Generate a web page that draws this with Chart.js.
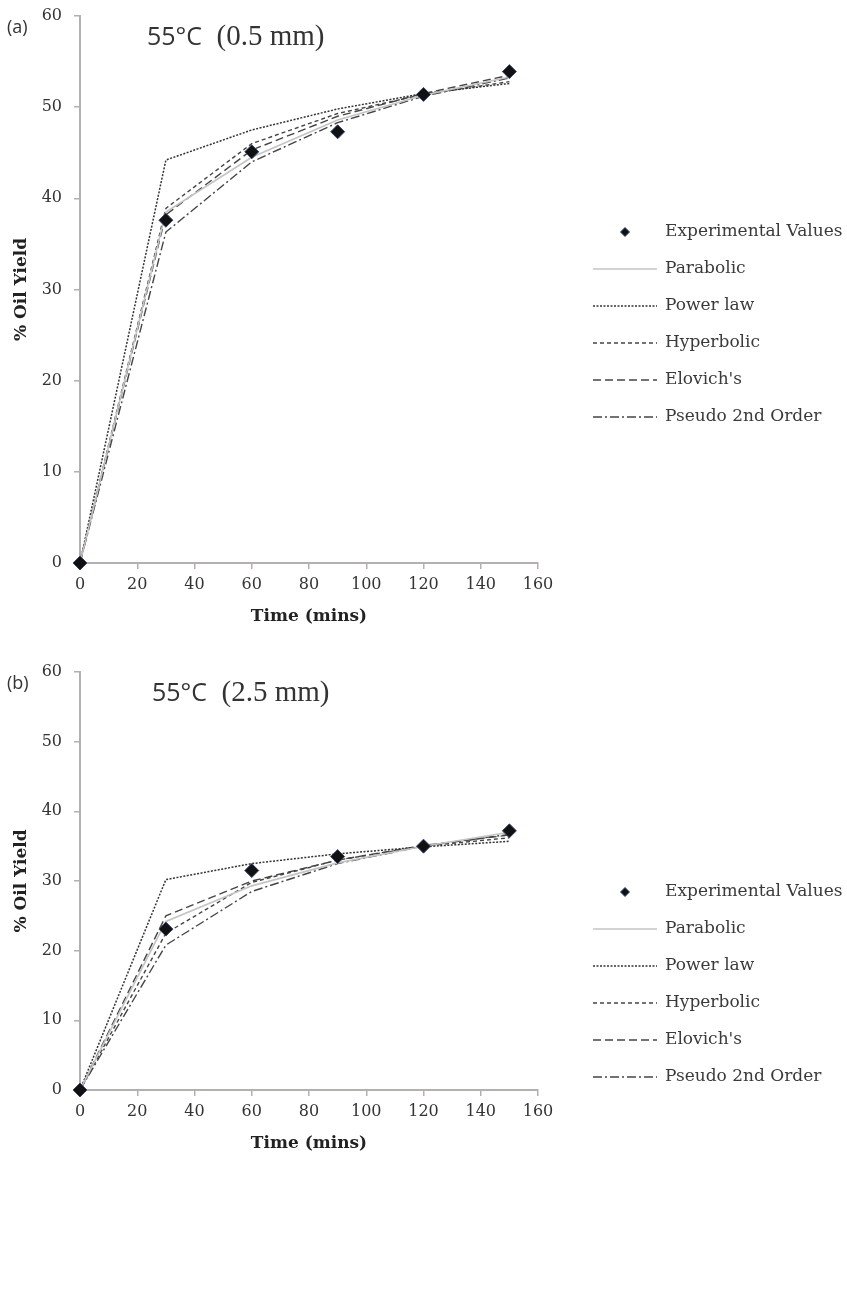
<!DOCTYPE html>
<html>
<head>
<meta charset="utf-8">
<script src="https://cdn.jsdelivr.net/npm/chart.js@4.4.1/dist/chart.umd.min.js"></script>
<style>
  body { margin: 0; background: #fff; }
  .panel { position: relative; width: 847px; overflow: hidden; }
  .panel canvas { display: block; }
  .tag { position: absolute; font-family: "Open Sans", "Liberation Sans", sans-serif; font-size: 18px; color: #333; z-index: 2; }
  .head { position: absolute; font-size: 29px; color: #333; white-space: nowrap; z-index: 2; }
  .head .deg { font-family: "Open Sans", "Liberation Sans", sans-serif; font-size: 25px; }
  .head .size { font-family: "Liberation Serif", serif; }
</style>
</head>
<body>

<div class="panel" style="height:640px">
  <canvas id="chartA" width="847" height="640"></canvas>
  <div class="tag" style="left:7px;top:14px">(a)</div>
  <div class="head" style="left:147px;top:18px"><span class="deg">55°C</span>&nbsp;&nbsp;<span class="size">(0.5 mm)</span></div>
</div>

<div class="panel" style="height:654px">
  <canvas id="chartB" width="847" height="654"></canvas>
  <div class="tag" style="left:7px;top:30px">(b)</div>
  <div class="head" style="left:152px;top:34px"><span class="deg">55°C</span>&nbsp;&nbsp;<span class="size">(2.5 mm)</span></div>
</div>

<script>
// time points (mins)
const timeMins = [0, 30, 60, 90, 120, 150];
const seriesNames = ['Experimental Values', 'Parabolic', 'Power law', 'Hyperbolic', "Elovich's", 'Pseudo 2nd Order'];

// (a) 55°C, 0.5 mm
const expA        = [0, 37.6, 45.1, 47.3, 51.4, 53.9];
const parabolicA  = [0, 38.5, 44.5, 48.6, 51.3, 53.3];
const powerA      = [0, 44.2, 47.5, 49.8, 51.5, 52.6];
const hyperbolicA = [0, 38.9, 46.0, 49.3, 51.4, 52.8];
const elovichA    = [0, 38.2, 45.3, 49.0, 51.5, 53.5];
const pseudoA     = [0, 36.3, 44.0, 48.3, 51.2, 53.2];

// (b) 55°C, 2.5 mm
const expB        = [0, 23.1, 31.5, 33.5, 35.0, 37.2];
const parabolicB  = [0, 24.2, 29.3, 32.6, 35.0, 37.0];
const powerB      = [0, 30.2, 32.5, 33.9, 34.9, 35.7];
const hyperbolicB = [0, 22.5, 29.8, 33.0, 35.0, 36.2];
const elovichB    = [0, 25.0, 30.0, 33.0, 35.1, 36.6];
const pseudoB     = [0, 20.8, 28.5, 32.5, 35.0, 36.7];

const xTickMin = 0, xTickMax = 160, xStep = 20;
const yTickMin = 0, yTickMax = 60, yStep = 10;

const serif = '"DejaVu Serif", Georgia, serif';
const axisGrey = '#b3b0b0';

// line looks for the fitted models, same order as seriesNames[1..]
const lineStyles = [
  { color: '#c4c4c4', width: 1.6, dash: [] },
  { color: '#333', width: 1.5, dash: [2, 1.5] },
  { color: '#444', width: 1.4, dash: [4, 3] },
  { color: '#444', width: 1.4, dash: [8, 4] },
  { color: '#444', width: 1.4, dash: [9, 3, 2, 3] }
];

function pts(vals) {
  return timeMins.map((t, i) => ({ x: t, y: vals[i] }));
}

function buildDatasets(exp, fits) {
  const sets = [{
    label: seriesNames[0],
    data: pts(exp),
    showLine: false,
    pointStyle: 'rectRot',
    pointRadius: 7,
    backgroundColor: '#111',
    borderColor: '#34466e',
    borderWidth: 1,
    clip: false
  }];
  fits.forEach((vals, i) => {
    const st = lineStyles[i];
    sets.push({
      label: seriesNames[i + 1],
      data: pts(vals),
      showLine: true,
      borderColor: st.color,
      borderWidth: st.width,
      borderDash: st.dash,
      pointRadius: 0,
      fill: false,
      tension: 0
    });
  });
  return sets;
}

// legend drawn at the right side, Excel style
const sideLegend = {
  id: 'sideLegend',
  afterDraw(chart, args, opts) {
    const ctx = chart.ctx;
    ctx.save();
    ctx.font = '17px ' + serif;
    ctx.textBaseline = 'middle';
    chart.data.datasets.forEach((ds, i) => {
      const y = opts.top + i * opts.gap;
      if (ds.showLine === false) {
        ctx.fillStyle = ds.backgroundColor;
        ctx.strokeStyle = ds.borderColor;
        ctx.lineWidth = 1;
        Chart.helpers.drawPoint(ctx, { pointStyle: 'rectRot', radius: 4.5, borderWidth: 1 }, (opts.x0 + opts.x1) / 2, y);
      } else {
        ctx.strokeStyle = ds.borderColor;
        ctx.lineWidth = ds.borderWidth;
        ctx.setLineDash(ds.borderDash || []);
        ctx.beginPath();
        ctx.moveTo(opts.x0, y);
        ctx.lineTo(opts.x1, y);
        ctx.stroke();
        ctx.setLineDash([]);
      }
      ctx.fillStyle = '#3a3a3a';
      ctx.fillText(ds.label, opts.textX, y);
    });
    ctx.restore();
  }
};

function axisOpts(min, max, step, titleText, titlePad, tickPad, fitFn) {
  return {
    type: 'linear',
    min: min,
    max: max,
    ticks: { stepSize: step, color: '#333', font: { family: serif, size: 16 }, padding: tickPad },
    grid: { drawOnChartArea: false, drawTicks: true, tickLength: 6, color: axisGrey, lineWidth: 1.5 },
    border: { display: true, color: axisGrey, width: 2 },
    title: { display: true, text: titleText, color: '#222', font: { family: serif, size: 17, weight: 'bold' }, padding: titlePad },
    afterFit: fitFn
  };
}

function makeChart(id, exp, fits, pad, legendTop) {
  new Chart(document.getElementById(id), {
    type: 'scatter',
    data: { datasets: buildDatasets(exp, fits) },
    options: {
      responsive: false,
      animation: false,
      layout: { padding: pad },
      scales: {
        x: axisOpts(xTickMin, xTickMax, xStep, 'Time (mins)', { top: 0, bottom: 13 }, 6,
          s => { s.height = 77; s.paddingLeft = 0; s.paddingRight = 0; }),
        y: axisOpts(yTickMin, yTickMax, yStep, '% Oil Yield', { top: 11, bottom: 0 }, 12,
          s => { s.width = 80; s.paddingTop = 0; s.paddingBottom = 0; })
      },
      plugins: {
        legend: { display: false },
        tooltip: { enabled: false },
        sideLegend: { top: legendTop, gap: 37, x0: 593, x1: 657, textX: 665 }
      }
    },
    plugins: [sideLegend]
  });
}

makeChart('chartA', expA, [parabolicA, powerA, hyperbolicA, elovichA, pseudoA],
  { top: 16, right: 309, bottom: 0, left: 0 }, 232);
makeChart('chartB', expB, [parabolicB, powerB, hyperbolicB, elovichB, pseudoB],
  { top: 32, right: 309, bottom: 127, left: 0 }, 252);
</script>
</body>
</html>
